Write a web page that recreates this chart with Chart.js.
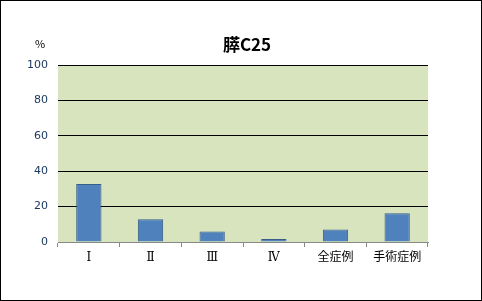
<!DOCTYPE html>
<html>
<head>
<meta charset="utf-8">
<script src="https://cdn.jsdelivr.net/npm/chart.js@4"></script>
<style>
  html, body { margin: 0; padding: 0; background: #fff; }
  #wrap { width: 482px; height: 301px; }
</style>
</head>
<body>
<div id="wrap"><canvas id="chart" width="482" height="301"></canvas></div>
<script>
// データ
const categories = ['Ⅰ', 'Ⅱ', 'Ⅲ', 'Ⅳ', '全症例', '手術症例'];
const rates = [32.8, 12.8, 6.0, 1.7, 7.1, 16.3];
const yTicks = [0, 20, 40, 60, 80, 100];
const chartTitle = '膵C25';
const unitLabel = '%';

// 背景・枠・タイトル
const decor = {
    id: 'decor',
    beforeDraw(chart) {
        const { ctx, chartArea: a } = chart;
        ctx.save();
        ctx.fillStyle = '#fff';
        ctx.fillRect(0, 0, chart.width, chart.height);
        ctx.fillStyle = '#d7e4bd';
        ctx.fillRect(a.left, a.top, a.right - a.left, a.bottom - a.top);
        ctx.restore();
    },
    afterDraw(chart) {
        const { ctx } = chart;
        ctx.save();
        ctx.strokeStyle = '#000';
        ctx.lineWidth = 1;
        ctx.strokeRect(0.5, 0.5, chart.width - 1, chart.height - 1);
        ctx.fillStyle = '#000';
        ctx.textAlign = 'center';
        ctx.textBaseline = 'middle';
        ctx.font = 'bold 17px "Noto Sans CJK JP"';
        ctx.fillText(chartTitle, 247, 45);
        ctx.font = '11px "Noto Sans CJK JP"';
        ctx.fillText(unitLabel, 40, 44);
        ctx.restore();
    }
};

const ctx = document.getElementById('chart').getContext('2d');
new Chart(ctx, {
    type: 'bar',
    data: {
        labels: categories,
        datasets: [{
            data: rates,
            backgroundColor: '#4f81bd',
            borderColor: '#385d8a',
            borderWidth: 1,
            barPercentage: 0.82,
            categoryPercentage: 0.5
        }]
    },
    options: {
        responsive: false,
        animation: false,
        layout: { padding: { left: 8, right: 54, top: 65, bottom: 29 } },
        plugins: {
            legend: { display: false },
            tooltip: { enabled: false }
        },
        scales: {
            x: {
                grid: {
                    offset: true,
                    drawOnChartArea: false,
                    drawTicks: true,
                    tickLength: 5,
                    color: '#888'
                },
                border: { display: true, color: '#888' },
                ticks: {
                    color: '#000',
                    padding: 4,
                    font: { family: '"DejaVu Serif", "Noto Sans CJK JP"', size: 12 }
                },
                afterFit(scale) { scale.height = 30; }
            },
            y: {
                min: 0,
                max: 100,
                afterBuildTicks(scale) { scale.ticks = yTicks.map(v => ({ value: v })); },
                grid: {
                    drawTicks: false,
                    color: c => c.tick && c.tick.value === 0 ? 'rgba(0,0,0,0)' : '#000'
                },
                border: { display: false },
                ticks: {
                    color: '#17365d',
                    padding: 10,
                    font: { family: '"DejaVu Sans"', size: 11 }
                },
                afterFit(scale) { scale.width = 50; }
            }
        }
    },
    plugins: [decor]
});
</script>
</body>
</html>
